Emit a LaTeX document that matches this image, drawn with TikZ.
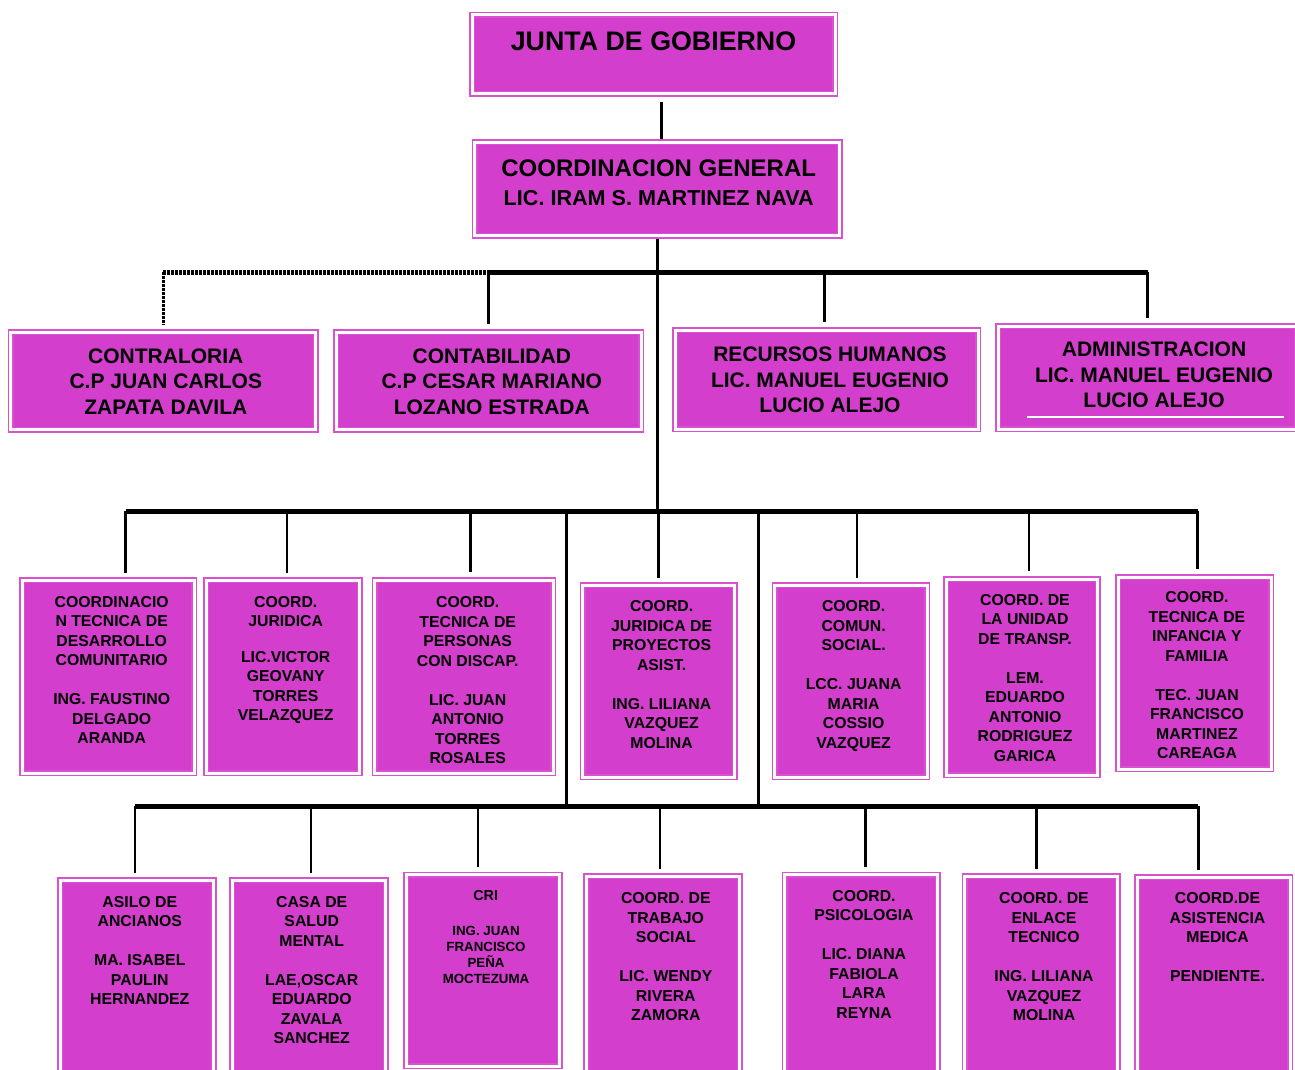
\documentclass[tikz,border=0pt]{standalone}
\usepackage{fontspec}
\setmainfont{Liberation Sans}
\usetikzlibrary{calc}
\definecolor{boxfill}{RGB}{212,62,204}
\definecolor{boxline}{RGB}{216,82,208}
\tikzset{
   unit/.style={draw=boxline, double=white, double distance=3pt,
      line width=1.5pt, fill=boxfill, inner sep=0pt},
   txt/.style={align=center, inner sep=0pt, anchor=north,
      font=\fontsize{15.8}{19.5}\selectfont\bfseries},
   bigtxt/.style={txt, font=\fontsize{21}{25.7}\selectfont\bfseries},
   link/.style={draw=black, line width=2.8pt},
   bus/.style={draw=black, line width=5pt},
   drop/.style={link, shorten >=7pt},
   dotlink/.style={dash pattern=on 2.5pt off 1.5pt},
    }
\begin{document}
\begin{tikzpicture}[x=1pt, y=-1pt]
    \useasboundingbox (0,0) rectangle (1295,1070);
    \clip (0,0) rectangle (1295,1070);
    % top
    \node[unit, minimum width=363pt, minimum height=79pt] (junta) at (653.8,54.2) {};
    \node[unit, minimum width=365pt, minimum height=93.4pt] (cg) at (657.2,189) {};
    \node[txt, font=\fontsize{26.8}{30}\selectfont\bfseries] (juntaT) at (653.5,31.8) {JUNTA DE GOBIERNO};
    \node[txt, font=\fontsize{24}{28.8}\selectfont\bfseries] (cgT) at (658.7,159.3)
        {COORDINACION GENERAL\\{\fontsize{21.6}{28.8}\selectfont LIC. IRAM S. MARTINEZ NAVA}};
    % staff
    \node[unit, minimum width=305pt, minimum height=97.7pt] (contra) at (163.1,380.9) {};
    \node[unit, minimum width=304.7pt, minimum height=97.7pt] (contab) at (488.7,380.9) {};
    \node[unit, minimum width=303pt, minimum height=99pt] (rrhh) at (826.5,379.5) {};
    \node[unit, minimum width=299pt, minimum height=103pt] (admin) at (1147.5,377.5) {};
    \node[bigtxt] (contraT) at (165.8,348.3) {CONTRALORIA\\C.P JUAN CARLOS\\ZAPATA DAVILA};
    \node[bigtxt] (contabT) at (491.8,348.3) {CONTABILIDAD\\C.P CESAR MARIANO\\LOZANO ESTRADA};
    \node[bigtxt] (rrhhT) at (830,346.5) {RECURSOS HUMANOS\\LIC. MANUEL EUGENIO\\LUCIO ALEJO};
    \node[bigtxt] (adminT) at (1154,341.7) {ADMINISTRACION\\LIC. MANUEL EUGENIO\\LUCIO ALEJO};
    \draw[white, line width=2pt] (1027,417.3) -- (1284,417.3);
    % coordinaciones
    \node[unit, minimum width=172pt, minimum height=192.7pt] (dc) at (108.3,676.7) {};
    \node[unit, minimum width=153.4pt, minimum height=192.7pt] (jur) at (283,676.7) {};
    \node[unit, minimum width=178.6pt, minimum height=193pt] (disc) at (464.1,676.5) {};
    \node[unit, minimum width=152.3pt, minimum height=191.7pt] (proy) at (658.8,681.2) {};
    \node[unit, minimum width=152.2pt, minimum height=191.7pt] (comun) at (851,681.2) {};
    \node[unit, minimum width=151.4pt, minimum height=196pt] (transp) at (1022,677) {};
    \node[unit, minimum width=153pt, minimum height=192pt] (infancia) at (1194.8,673) {};
    \node[txt] (dcT) at (111.7,596) {COORDINACIO\\N TECNICA DE\\DESARROLLO\\COMUNITARIO\\[\baselineskip]ING. FAUSTINO\\DELGADO\\ARANDA};
    \node[txt] (jurT) at (285.7,596) {COORD.\\JURIDICA\\[16pt]LIC.VICTOR\\GEOVANY\\TORRES\\VELAZQUEZ};
    \node[txt] (discT) at (467.7,596.7) {COORD.\\TECNICA DE\\PERSONAS\\CON DISCAP.\\[\baselineskip]LIC. JUAN\\ANTONIO\\TORRES\\ROSALES};
    \node[txt] (proyT) at (661.6,600.7) {COORD.\\JURIDICA DE\\PROYECTOS\\ASIST.\\[\baselineskip]ING. LILIANA\\VAZQUEZ\\MOLINA};
    \node[txt] (comunT) at (853.6,600.7) {COORD.\\COMUN.\\SOCIAL.\\[\baselineskip]LCC. JUANA\\MARIA\\COSSIO\\VAZQUEZ};
    \node[txt] (transpT) at (1025,594) {COORD. DE\\LA UNIDAD\\DE TRANSP.\\[\baselineskip]LEM.\\EDUARDO\\ANTONIO\\RODRIGUEZ\\GARICA};
    \node[txt] (infanciaT) at (1197,591.7) {COORD.\\TECNICA DE\\INFANCIA Y\\FAMILIA\\[\baselineskip]TEC. JUAN\\FRANCISCO\\MARTINEZ\\CAREAGA};
    % centros
    \node[unit, minimum width=153.4pt, minimum height=201.7pt] (asilo) at (137,981.2) {};
    \node[unit, minimum width=153.7pt, minimum height=201.7pt] (casa) at (308.9,981.2) {};
    \node[unit, minimum width=153.4pt, minimum height=191.6pt] (cri) at (483,970.5) {};
    \node[unit, minimum width=153.4pt, minimum height=205.7pt] (trabajo) at (663,979.2) {};
    \node[unit, minimum width=153pt, minimum height=207.3pt] (psico) at (861.2,978.4) {};
    \node[unit, minimum width=153pt, minimum height=205.7pt] (enlace) at (1041.2,979.2) {};
    \node[unit, minimum width=153.3pt, minimum height=204.7pt] (asist) at (1213.7,979.7) {};
    \node[txt] (asiloT) at (139.8,896) {ASILO DE\\ANCIANOS\\[\baselineskip]MA. ISABEL\\PAULIN\\HERNANDEZ};
    \node[txt] (casaT) at (311.7,896) {CASA DE\\SALUD\\MENTAL\\[\baselineskip]LAE,OSCAR\\EDUARDO\\ZAVALA\\SANCHEZ};
    \node[txt, font=\fontsize{14.4}{17}\selectfont\bfseries] (criT) at (485.7,890.7) {CRI};
    \node[txt, font=\fontsize{13.3}{16}\selectfont\bfseries] (criN) at (486,925.7) {ING. JUAN\\FRANCISCO\\PEÑA\\MOCTEZUMA};
    \node[txt] (trabajoT) at (665.8,892.3) {COORD. DE\\TRABAJO\\SOCIAL\\[\baselineskip]LIC. WENDY\\RIVERA\\ZAMORA};
    \node[txt] (psicoT) at (864,890) {COORD.\\PSICOLOGIA\\[\baselineskip]LIC. DIANA\\FABIOLA\\LARA\\REYNA};
    \node[txt] (enlaceT) at (1044,892.3) {COORD. DE\\ENLACE\\TECNICO\\[\baselineskip]ING. LILIANA\\VAZQUEZ\\MOLINA};
    \node[txt] (asistT) at (1217.5,892.3) {COORD.DE\\ASISTENCIA\\MEDICA\\[\baselineskip]PENDIENTE.};
    % lines
    \coordinate (y1) at (0,272);
    \coordinate (y2) at (0,511);
    \coordinate (y3) at (0,806);
    \draw[link, shorten <=8pt, shorten >=3pt] ([xshift=8pt]junta.south) -- ([xshift=8pt]junta.south |- cg.north);
    \draw[link] ([yshift=-3pt]cg.south) -- (cg.south |- y2);
    \draw[bus, dotlink] (contra.north |- y1) -- (contab.north |- y1);
    \draw[bus] (contab.north |- y1) -- (admin.north |- y1);
    \draw[drop, dotlink] (contra.north |- y1) -- (contra.north);
    \draw[drop] (contab.north |- y1) -- (contab.north);
    \draw[drop] ([xshift=-2pt]rrhh.north |- y1) -- ([xshift=-2pt]rrhh.north);
    \draw[drop] (admin.north |- y1) -- (admin.north);
    \draw[bus] ([xshift=17.5pt]dc.north |- y2) -- ([xshift=3pt]infancia.north |- y2);
    \draw[drop] ([xshift=17.5pt]dc.north |- y2) -- ([xshift=17.5pt]dc.north);
    \draw[drop] ([xshift=4pt]jur.north |- y2) -- ([xshift=4pt]jur.north);
    \draw[drop] ([xshift=6pt]disc.north |- y2) -- ([xshift=6pt]disc.north);
    \draw[drop] (proy.north |- y2) -- (proy.north);
    \draw[drop] ([xshift=6pt]comun.north |- y2) -- ([xshift=6pt]comun.north);
    \draw[drop] ([xshift=7pt]transp.north |- y2) -- ([xshift=7pt]transp.north);
    \draw[drop] ([xshift=3pt]infancia.north |- y2) -- ([xshift=3pt]infancia.north);
    \coordinate (tapA) at (566.5,511);
    \coordinate (tapB) at (758.6,511);
    \draw[link] (tapA) -- (tapA |- y3);
    \draw[link] (tapB) -- (tapB |- y3);
    \draw[bus] ([xshift=-2pt]asilo.north |- y3) -- ([xshift=-15.6pt]asist.north |- y3);
    \draw[drop] ([xshift=-2pt]asilo.north |- y3) -- ([xshift=-2pt]asilo.north);
    \draw[drop] ([xshift=2pt]casa.north |- y3) -- ([xshift=2pt]casa.north);
    \draw[drop] ([xshift=-5pt]cri.north |- y3) -- ([xshift=-5pt]cri.north);
    \draw[drop] ([xshift=-3pt]trabajo.north |- y3) -- ([xshift=-3pt]trabajo.north);
    \draw[drop] ([xshift=4pt]psico.north |- y3) -- ([xshift=4pt]psico.north);
    \draw[drop] ([xshift=-5pt]enlace.north |- y3) -- ([xshift=-5pt]enlace.north);
    \draw[drop] ([xshift=-15.6pt]asist.north |- y3) -- ([xshift=-15.6pt]asist.north);
\end{tikzpicture}
\end{document}
